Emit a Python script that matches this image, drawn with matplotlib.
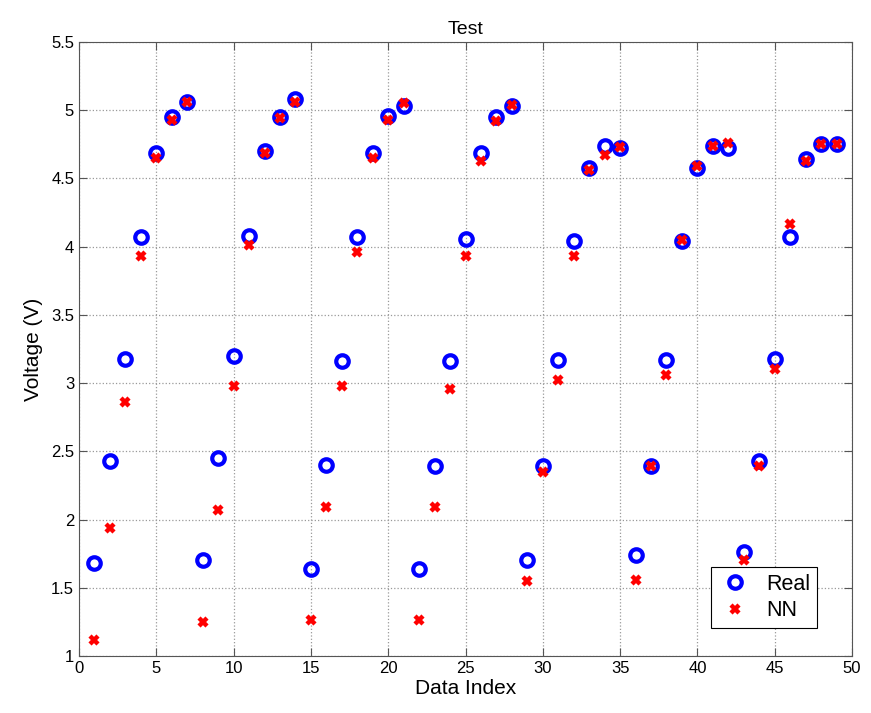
import numpy as np
import matplotlib
matplotlib.use("Agg")
import matplotlib.pyplot as plt

plt.rcParams['font.family'] = ['Liberation Sans', 'DejaVu Sans']

# Measured and network-predicted voltages for each sample
index = np.arange(1, 50)
real = [1.68, 2.43, 3.18, 4.07, 4.69, 4.95, 5.06,
        1.70, 2.45, 3.20, 4.08, 4.70, 4.95, 5.08,
        1.64, 2.40, 3.16, 4.07, 4.69, 4.96, 5.03,
        1.64, 2.39, 3.16, 4.06, 4.69, 4.95, 5.03,
        1.70, 2.39, 3.17, 4.04, 4.58, 4.74, 4.72,
        1.74, 2.39, 3.17, 4.04, 4.58, 4.74, 4.72,
        1.76, 2.43, 3.18, 4.07, 4.64, 4.75, 4.75]
nn = [1.12, 1.94, 2.86, 3.93, 4.65, 4.93, 5.06,
      1.25, 2.07, 2.98, 4.01, 4.69, 4.94, 5.06,
      1.26, 2.09, 2.98, 3.96, 4.65, 4.93, 5.05,
      1.26, 2.09, 2.96, 3.93, 4.63, 4.92, 5.04,
      1.55, 2.35, 3.02, 3.93, 4.56, 4.67, 4.73,
      1.56, 2.39, 3.06, 4.05, 4.59, 4.74, 4.76,
      1.70, 2.39, 3.10, 4.17, 4.63, 4.75, 4.75]

fig = plt.figure(figsize=(8.71, 7.13), dpi=100)
ax = fig.add_axes([0.0907, 0.080, 0.8875, 0.861])

ax.plot(index, real, 'o', color='blue', markerfacecolor='none',
        markersize=9, markeredgewidth=3, label='Real')
ax.plot(index, nn, 'x', color='red', markersize=6,
        markeredgewidth=3.2, label='NN')

ax.set_xlim(0, 50)
ax.set_ylim(1, 5.5)
ax.set_xticks(np.arange(0, 51, 5))
ax.set_yticks(np.arange(1, 5.51, 0.5))
ax.set_yticklabels(['1', '1.5', '2', '2.5', '3', '3.5', '4', '4.5', '5', '5.5'])
ax.grid(True, linestyle=':', color='#999999', linewidth=0.9)
ax.tick_params(direction='in', top=True, right=True, labelsize=12, length=6,
               color='#555555')
for s in ax.spines.values():
    s.set_color('#555555')

ax.set_xlabel('Data Index', fontsize=15, labelpad=2)
ax.set_ylabel('Voltage (V)', fontsize=15, labelpad=6)
ax.set_title('Test', fontsize=14, pad=6)

leg = ax.legend(loc='lower right', bbox_to_anchor=(0.955, 0.046),
                borderaxespad=0, fontsize=15.5, framealpha=1,
                fancybox=False, edgecolor='black', handletextpad=0.6,
                borderpad=0.3, labelspacing=0.25, handlelength=1.7)
leg.get_frame().set_linewidth(0.8)

fig.savefig('out.png', dpi=100)
